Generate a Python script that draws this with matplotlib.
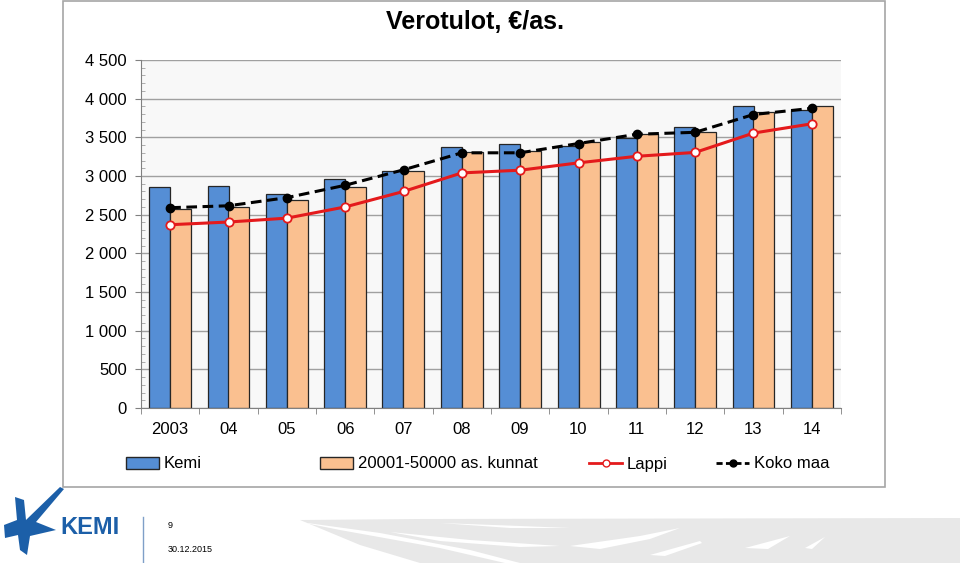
import matplotlib
matplotlib.use("Agg")
import matplotlib.pyplot as plt
from matplotlib.patches import Rectangle, Polygon, Patch
from matplotlib.lines import Line2D
from matplotlib.ticker import MultipleLocator, FuncFormatter
import numpy as np

plt.rcParams['font.family'] = ['Liberation Sans', 'DejaVu Sans']

years = ["2003", "04", "05", "06", "07", "08", "09", "10", "11", "12", "13", "14"]
kemi = [2860, 2865, 2765, 2955, 3065, 3380, 3420, 3390, 3495, 3635, 3910, 3855]
kunnat = [2575, 2605, 2685, 2855, 3070, 3310, 3320, 3445, 3545, 3575, 3830, 3910]
lappi = [2370, 2405, 2455, 2600, 2800, 3040, 3075, 3170, 3255, 3305, 3555, 3675]
koko_maa = [2590, 2615, 2720, 2880, 3080, 3300, 3300, 3420, 3540, 3565, 3795, 3875]

blue = "#558ED5"
orange = "#FAC090"
red = "#E41A1C"

W, H = 960, 563
fig = plt.figure(figsize=(9.6, 5.63), dpi=100)


def img_pts(pts):
    # image pixel coords (y down) -> display coords (y up)
    return [(a, H - b) for a, b in pts]


# footer swooshes (background)
fig.patches.append(Polygon(img_pts([(300, 520), (420, 519), (960, 518), (960, 563),
                                    (420, 563), (360, 545)]),
                           closed=True, transform=None, facecolor="#E8E8E8",
                           edgecolor="none", zorder=0))
streaks = [
    [(300, 522), (380, 533), (470, 550), (520, 563), (505, 563), (440, 548), (340, 530)],
    [(390, 532), (470, 540), (560, 546), (520, 547), (440, 541)],
    [(440, 523), (520, 526), (570, 528), (510, 528)],
    [(570, 546), (640, 536), (680, 528), (650, 539), (600, 549)],
    [(650, 555), (700, 541), (702, 543), (665, 556)],
    [(745, 548), (790, 536), (768, 549)],
    [(805, 548), (825, 537), (812, 549)],
]
for pts in streaks:
    fig.patches.append(Polygon(img_pts(pts), closed=True, transform=None,
                               facecolor="white", edgecolor="none", zorder=0))

# chart frame
fig.patches.append(Rectangle((63 / W, 1 - 487 / H), 822 / W, 486 / H,
                             transform=fig.transFigure, fill=False,
                             edgecolor="#A6A6A6", linewidth=1.2, zorder=0))

ax = fig.add_axes([141 / W, 1 - 408 / H, 700 / W, 348 / H])
ax.set_facecolor("#F8F8F8")

x = np.arange(len(years))
w = 0.36
ax.bar(x - w / 2, kemi, w, color=blue, edgecolor="#262626", linewidth=0.9, zorder=2)
ax.bar(x + w / 2, kunnat, w, color=orange, edgecolor="#262626", linewidth=0.9, zorder=2)
ax.plot(x, lappi, color=red, linewidth=2.2, marker="o", markersize=6,
        markerfacecolor="white", markeredgecolor=red, markeredgewidth=1.3, zorder=3)
ax.plot(x, koko_maa, color="black", linewidth=2.2, linestyle=(0, (3.5, 1.8)), marker="o",
        markersize=6, markerfacecolor="black", zorder=4)

ax.set_xlim(-0.5, len(years) - 0.5)
ax.set_ylim(0, 4500)
ax.yaxis.set_major_locator(MultipleLocator(500))
ax.yaxis.set_minor_locator(MultipleLocator(100))
ax.yaxis.set_major_formatter(FuncFormatter(lambda v, p: "{:,}".format(int(v)).replace(",", " ")))
ax.grid(axis="y", which="major", color="#A0A0A0", linewidth=1, zorder=0)
ax.set_xticks(x)
ax.set_xticklabels(years)
ax.set_xticks(np.arange(-0.5, len(years)), minor=True)
ax.tick_params(axis="x", which="major", length=0, labelsize=12, pad=10)
ax.tick_params(axis="x", which="minor", length=4, color="#808080", direction="out")
ax.tick_params(axis="y", which="major", length=4, color="#808080", labelsize=12, pad=6)
ax.tick_params(axis="y", which="minor", length=3, color="#A0A0A0", direction="in")
for s in ["top", "right"]:
    ax.spines[s].set_visible(False)
for s in ["left", "bottom"]:
    ax.spines[s].set_color("#808080")

fig.text(475 / W, 1 - 22 / H, "Verotulot, €/as.", ha="center", va="center",
         fontsize=18, fontweight="bold")

# legend entries
entries = [
    (126, Patch(facecolor=blue, edgecolor="#262626"), "Kemi"),
    (320, Patch(facecolor=orange, edgecolor="#262626"), "20001-50000 as. kunnat"),
    (589, Line2D([], [], color=red, linewidth=2, marker="o", markersize=5,
                 markerfacecolor="white", markeredgecolor=red), "Lappi"),
    (716, Line2D([], [], color="black", linewidth=2, linestyle=(0, (2.2, 1.2)), marker="o",
                 markersize=5, markerfacecolor="black"), "Koko maa"),
]
for px, h, lab in entries:
    fig.legend([h], [lab], loc="center left", bbox_to_anchor=(px / W, 1 - 464 / H),
               frameon=False, fontsize=12, handlelength=2.0, handleheight=0.75,
               handletextpad=0.25, borderpad=0, borderaxespad=0)

# footer: logo, page number, date
logo_blue = "#1C5FA8"
fig.patches.append(Polygon(img_pts([(15, 497), (24, 500), (26, 520), (60, 487), (64, 489),
                                    (36, 522), (56, 530), (30, 536), (27, 555), (20, 550),
                                    (18, 535), (5, 538), (4, 525), (17, 520)]),
                           closed=True, transform=None, facecolor=logo_blue,
                           edgecolor="none", zorder=1))
fig.text(60 / W, 1 - 527 / H, "KEMI", color=logo_blue, fontsize=17,
         fontweight="bold", va="center", ha="left")
fig.add_artist(Line2D([143 / W, 143 / W], [0, 1 - 517 / H], color="#7F9FC8",
                      linewidth=1, transform=fig.transFigure))
fig.text(168 / W, 1 - 525 / H, "9", fontsize=6.5, va="center")
fig.text(168 / W, 1 - 549 / H, "30.12.2015", fontsize=6.5, va="center")

fig.savefig("out.png", dpi=100)
